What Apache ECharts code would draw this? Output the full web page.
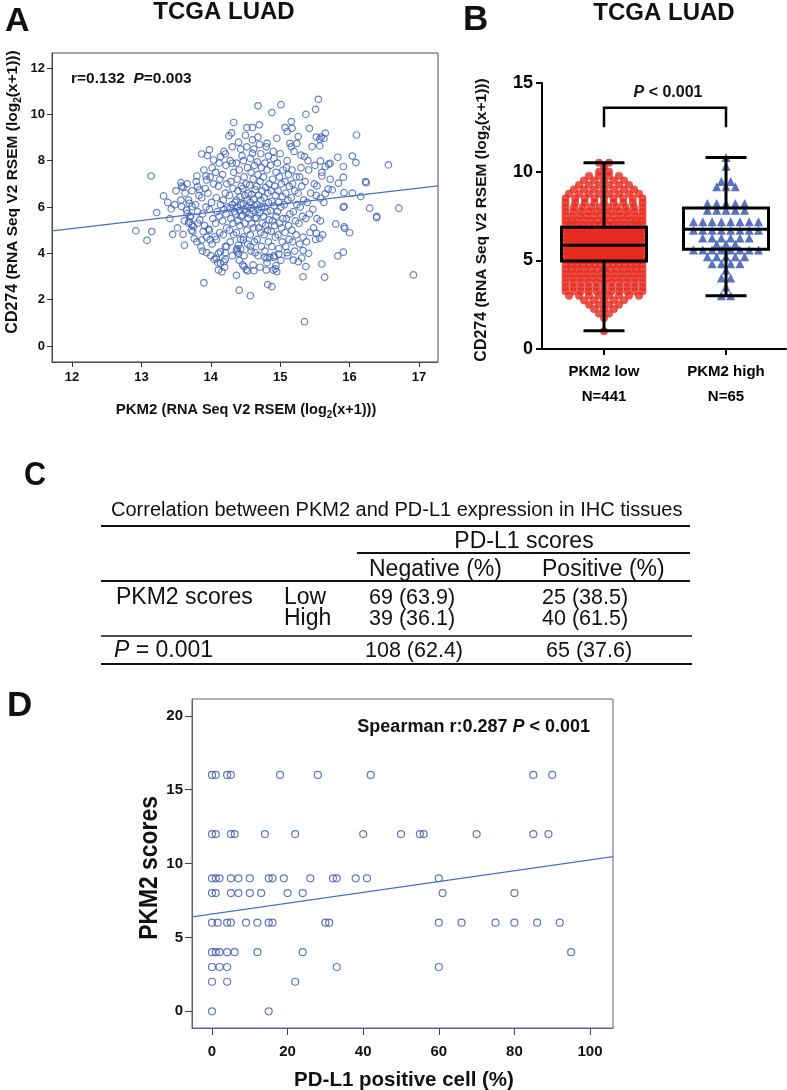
<!DOCTYPE html>
<html><head><meta charset="utf-8">
<script src="https://cdn.jsdelivr.net/npm/echarts@6/dist/echarts.min.js"></script>
<style>html,body{margin:0;padding:0;background:#fff}#c{width:787px;height:1090px}</style>
</head><body><div id="c"></div>
<script>
const FONT = '"Liberation Sans", Arial, Helvetica, sans-serif';

// ---------- Panel A : PKM2 vs CD274 scatter ----------
const aTicksX = [12, 13, 14, 15, 16, 17];
const aTicksY = [0, 2, 4, 6, 8, 10, 12];
const aFit = [0.883, 0.349]; // intercept, slope
const aOuter = [[12.92,4.97],[13.08,4.56],[13.15,4.94],[13.22,5.76],[13.32,6.48],[13.43,5.92],[13.45,4.82],[13.6,4.82],[13.62,4.35],[13.58,6.02],[13.58,6.9],[13.68,5.3],[13.76,4.64],[13.86,4.28],[13.9,2.73],[13.94,4.03],[13.89,4.94],[13.98,5.0],[14.05,3.74],[14.11,3.28],[14.16,3.21],[14.14,4.07],[14.19,3.64],[14.21,3.74],[14.37,3.05],[14.41,2.41],[14.38,4.07],[14.43,4.2],[14.48,3.43],[14.53,3.24],[14.57,2.17],[14.62,3.25],[14.78,3.83],[14.82,2.65],[14.88,2.56],[14.8,3.28],[14.93,3.33],[14.94,3.47],[14.85,3.83],[14.91,3.83],[14.98,3.97],[15.1,4.03],[15.33,2.99],[15.37,3.43],[15.35,1.05],[15.19,3.71],[15.26,3.64],[15.33,4.12],[15.6,3.54],[15.64,2.97],[15.57,4.65],[15.52,4.87],[15.8,5.27],[15.92,5.15],[16.0,4.89],[15.91,4.05],[15.83,3.89],[15.92,6.02],[16.04,6.6],[16.16,6.45],[16.24,7.05],[16.29,5.95],[16.39,5.54],[16.39,5.6],[16.71,5.95],[16.92,3.07],
[13.14,7.34],[13.57,7.05],[13.6,6.85],[13.8,7.34],[13.87,8.29],[13.95,8.22],[13.98,8.47],[14.04,8.03],[14.14,8.18],[14.21,8.29],[14.26,9.07],[14.33,9.65],[14.31,7.89],[14.45,8.21],[14.52,9.43],[14.6,9.43],[14.6,8.32],[14.68,10.37],[14.7,9.55],[14.68,9.02],[14.81,8.75],[14.88,10.08],[15.01,10.42],[14.95,8.97],[15.07,9.43],[15.1,9.26],[15.16,9.69],[15.17,9.4],[15.14,8.75],[15.16,8.6],[15.24,8.75],[15.26,9.04],[15.3,8.24],[15.35,8.18],[15.37,10.0],[15.42,9.4],[15.46,8.61],[15.51,10.22],[15.55,10.65],[15.52,9.02],[15.59,9.02],[15.65,9.19],[15.58,7.99],[15.7,7.85],[15.65,7.75],[15.83,8.15],[15.91,7.75],[16.04,8.2],[16.09,7.92],[16.1,9.11],[16.23,7.1],[16.56,7.82],
[15.92,6.62],[15.84,7.03],[15.75,6.74],[15.91,5.99],[15.93,5.08],[15.58,6.38],[15.65,6.57],[15.72,7.89],[15.72,7.2],[15.69,6.77],[15.63,8.97],[15.57,8.93],[15.57,8.64],[15.6,7.34],[15.53,6.91],[15.91,7.29],
[13.87,4.58],[13.93,7.34],[13.94,7.17],[13.81,6.88],[13.84,6.74],[13.69,6.16],[13.73,6.02],[13.65,5.87],[13.7,5.59],[13.69,5.37],[13.73,5.23],[13.66,5.73],[13.75,5.15],[13.81,5.3],[13.99,4.58],[14.06,4.72],[14.08,3.79],[14.14,3.57],[14.21,4.03],[14.23,4.29],[14.46,3.5],[14.4,4.36],[14.4,4.0],[14.37,4.15],[14.47,4.58],[14.57,4.29],[14.64,4.03],[14.81,3.79],[14.9,3.28],[14.95,3.21]];
const aCore = [[13.41,5.5],[13.38,6.2],[13.52,5.1],[13.48,6.1],[13.5,6.7],[13.62,5.4],[13.57,6.3],[13.63,6.6],
[13.71,5.6],[13.68,6.3],[13.73,6.7],[13.66,7.0],[13.72,5.0],[13.74,4.95],
[13.81,5.8],[13.78,6.1],[13.83,6.5],[13.79,7.1],[13.84,5.45],[13.8,4.5],
[13.91,5.2],[13.88,5.7],[13.93,6.0],[13.87,6.4],[13.92,6.8],[13.9,7.6],[13.94,4.7],[13.88,4.1],
[14.02,4.4],[13.97,5.05],[14.03,5.5],[13.98,5.9],[14.01,6.2],[13.96,6.6],[14.04,7.0],[13.99,7.3],[14.02,7.7],[14.0,3.9],
[14.11,4.0],[14.08,4.6],[14.13,4.9],[14.07,5.3],[14.12,5.6],[14.09,5.8],[14.14,6.1],[14.08,6.4],[14.11,6.9],[14.13,7.2],[14.07,7.5],[14.12,7.9],[14.1,3.6],
[14.21,4.3],[14.18,4.8],[14.23,5.1],[14.17,5.4],[14.22,5.7],[14.19,5.9],[14.24,6.0],[14.18,6.3],[14.21,6.6],[14.23,7.0],[14.17,7.4],[14.22,7.8],[14.19,8.4],[14.2,3.4],
[14.31,3.9],[14.28,4.5],[14.33,4.8],[14.27,5.0],[14.32,5.3],[14.29,5.5],[14.34,5.8],[14.28,5.95],[14.31,6.1],[14.35,6.2],[14.27,6.5],[14.32,6.8],[14.29,7.1],[14.33,7.5],[14.28,8.0],[14.31,8.6],[14.3,9.2],
[14.41,3.7],[14.38,4.2],[14.43,4.6],[14.37,4.9],[14.42,5.2],[14.39,5.4],[14.44,5.6],[14.36,5.7],[14.41,5.85],[14.38,6.0],[14.43,6.1],[14.37,6.3],[14.42,6.45],[14.39,6.7],[14.44,6.9],[14.38,7.2],[14.41,7.6],[14.37,7.9],[14.43,8.5],[14.4,8.8],
[14.51,3.3],[14.48,3.9],[14.53,4.4],[14.47,4.7],[14.52,5.0],[14.49,5.3],[14.54,5.5],[14.46,5.65],[14.51,5.8],[14.48,5.9],[14.53,6.0],[14.47,6.15],[14.52,6.3],[14.49,6.5],[14.54,6.6],[14.46,6.8],[14.51,7.0],[14.48,7.3],[14.53,7.7],[14.47,8.0],[14.52,8.6],[14.5,9.1],
[14.61,3.5],[14.58,4.1],[14.63,4.5],[14.57,4.8],[14.62,5.1],[14.59,5.3],[14.64,5.5],[14.56,5.7],[14.61,5.85],[14.58,5.95],[14.63,6.05],[14.57,6.2],[14.62,6.35],[14.59,6.55],[14.64,6.75],[14.56,6.95],[14.61,7.2],[14.58,7.5],[14.63,7.8],[14.57,8.1],[14.62,8.5],[14.6,8.9],
[14.71,3.4],[14.68,3.9],[14.73,4.3],[14.67,4.6],[14.72,4.9],[14.69,5.1],[14.74,5.3],[14.66,5.55],[14.71,5.75],[14.68,5.9],[14.73,6.0],[14.67,6.1],[14.72,6.3],[14.69,6.5],[14.74,6.7],[14.66,6.9],[14.71,7.1],[14.68,7.4],[14.73,7.7],[14.67,7.95],[14.72,8.3],[14.7,8.7],
[14.81,3.6],[14.78,4.1],[14.83,4.5],[14.77,4.8],[14.82,5.0],[14.79,5.2],[14.84,5.45],[14.76,5.6],[14.81,5.8],[14.78,6.0],[14.83,6.2],[14.77,6.4],[14.82,6.6],[14.79,6.85],[14.84,7.0],[14.76,7.3],[14.81,7.6],[14.78,7.9],[14.83,8.2],[14.8,8.6],
[14.91,3.9],[14.88,4.3],[14.93,4.7],[14.87,4.95],[14.92,5.2],[14.89,5.4],[14.94,5.6],[14.86,5.85],[14.91,6.05],[14.88,6.25],[14.93,6.5],[14.87,6.7],[14.92,6.9],[14.89,7.2],[14.94,7.5],[14.86,7.8],[14.91,8.1],[14.9,8.4],
[15.01,3.7],[14.98,4.2],[15.03,4.5],[14.97,4.8],[15.02,5.1],[14.99,5.3],[15.04,5.5],[14.96,5.8],[15.01,6.0],[14.98,6.2],[15.03,6.45],[14.97,6.7],[15.02,7.0],[14.99,7.3],[15.04,7.6],[14.96,7.9],[15.0,8.3],
[15.11,3.9],[15.08,4.3],[15.13,4.6],[15.07,4.9],[15.12,5.2],[15.09,5.5],[15.14,5.7],[15.06,6.1],[15.11,6.3],[15.08,6.6],[15.13,6.9],[15.07,7.1],[15.12,7.4],[15.09,7.7],[15.1,8.0],
[15.21,4.1],[15.18,4.5],[15.23,4.8],[15.17,5.0],[15.22,5.4],[15.19,5.8],[15.24,6.1],[15.16,6.4],[15.21,6.7],[15.18,7.0],[15.23,7.3],[15.17,7.6],[15.2,8.4],
[15.31,3.8],[15.28,4.4],[15.33,4.7],[15.27,5.3],[15.32,5.6],[15.29,6.0],[15.34,6.3],[15.26,6.6],[15.31,6.9],[15.28,7.3],[15.3,7.7],
[15.41,4.0],[15.38,4.5],[15.43,4.9],[15.37,5.5],[15.42,5.7],[15.39,6.2],[15.44,6.6],[15.36,7.1],[15.41,7.6],[15.4,8.0],
[15.51,4.6],[15.48,5.1],[15.53,5.5],[15.47,5.9],[15.52,6.5],[15.49,7.0],[15.5,7.8],
[15.61,4.8],[15.58,5.4],[15.63,6.2],[15.6,7.5]];

// ---------- Panel B : box + dot plot ----------
const bCategories = ['PKM2 low', 'PKM2 high'];
const bN = ['N=441', 'N=65'];
const bTicksY = [0, 5, 10, 15];
// [value, number of points at that level]
const bLowRows = [[10.5,2],[10.25,1],[10.0,2],[9.75,4],[9.5,5],[9.25,6],[9.0,7],[8.75,8],[8.5,9],[8.25,9],[8.0,10],[7.75,11],[7.5,12],[7.25,13],[7.0,14],[6.75,28],[6.5,28],[6.25,28],[6.0,28],[5.75,27],[5.5,27],[5.25,27],[5.0,27],[4.75,14],[4.5,13],[4.25,12],[4.0,12],[3.75,11],[3.5,11],[3.25,11],[3.0,8],[2.75,5],[2.5,4],[2.25,3],[2.0,2],[1.75,1],[1.0,1]];
const bHighRows = [[10.8,1],[10.3,1],[9.45,2],[9.15,3],[8.2,5],[7.83,5],[7.17,8],[6.7,8],[6.26,6],[5.9,3],[5.58,8],[5.2,5],[4.81,4],[4.45,1],[4.0,2],[3.5,1],[3.0,2]];
const bLowBox = [1.03, 4.96, 5.85, 6.86, 10.5];   // min, Q1, median, Q3, max
const bHighBox = [3.0, 5.62, 6.75, 7.95, 10.8];
const bBracket = [12.5, 13.6];

// ---------- Panel C : table ----------
const cTitle = 'Correlation between PKM2 and PD-L1 expression in IHC tissues';
const cHeader = ['PD-L1 scores', 'Negative (%)', 'Positive (%)'];
const cRowLabel = 'PKM2 scores';
const cGroups = ['Low', 'High'];
const cNegative = ['69 (63.9)', '39 (36.1)', '108 (62.4)'];
const cPositive = ['25 (38.5)', '40 (61.5)', '65 (37.6)'];
const cP = '0.001';

// ---------- Panel D : PD-L1 % vs PKM2 score ----------
const dTicksX = [0, 20, 40, 60, 80, 100];
const dTicksY = [0, 5, 10, 15, 20];
const dScores = [16, 12, 9, 8, 6, 4, 3, 2, 0];
const dPct = [
  [0,1,4,5,18,28,42,85,90],
  [0,1,5,6,14,22,40,50,55,56,70,85,89],
  [0,1,2,5,7,10,15,16,19,26,32,33,38,41,60],
  [0,1,5,7,10,13,20,24,61,80],
  [0,1.5,4,5,9,12,15,16,30,31,60,66,75,80,86,92],
  [0,1,2,4,6,12,24,95],
  [0,2,4,33,60],
  [0,4,22],
  [0,15]
];
const dFit = [6.58, 0.0367];

// ---------- build ----------
const aPoints = aOuter.concat(aCore);
const dPoints = [];
dScores.forEach((s, i) => dPct[i].forEach(p => dPoints.push([p, s])));

const AX = {min: 11.712, max: 17.274}, AY = {min: -0.69, max: 12.65};
const BX = {min: 0.4918, max: 2.4918};
const DX = {min: -5.29, max: 106.08}, DY = {min: -1.13, max: 21.14};
const B_PX_PER_UNIT = 244 / (BX.max - BX.min);

function swarm(rows, center, maxGap, maxWidth) {
  const pts = [];
  rows.forEach(([v, n]) => {
    const gap = n > 1 ? Math.min(maxGap, maxWidth / (n - 1)) : 0;
    for (let i = 0; i < n; i++) {
      const off = (i - (n - 1) / 2) * gap;
      pts.push([center + off / B_PX_PER_UNIT, v]);
    }
  });
  return pts;
}
const fitLine = (f, r) => [[r.min, f[0] + f[1] * r.min], [r.max, f[0] + f[1] * r.max]];

function T(x, y, text, size, o) {
  o = o || {};
  return {
    type: 'text', x: x, y: y, rotation: o.rot || 0, scaleX: o.sx || 1, z: 100,
    style: {
      text: text, fontSize: size, fontWeight: o.w || 'normal', fontStyle: o.it ? 'italic' : 'normal',
      fontFamily: FONT, fill: o.c || '#111', align: o.a || 'left', verticalAlign: 'middle',
      textAlign: o.a || 'left', textVerticalAlign: 'middle', rich: o.rich
    }
  };
}
function L(x1, y1, x2, y2, w) {
  return {type: 'line', z: 100, shape: {x1: x1, y1: y1, x2: x2, y2: y2}, style: {stroke: '#111', lineWidth: w}};
}
function rs(size, extra) {
  return Object.assign({fontSize: size, fontWeight: 'bold', fontFamily: FONT, fill: '#111', color: '#111'}, extra || {});
}
const axisRich = (bs, ns) => ({
  b: rs(bs, {lineHeight: 20}),
  n: rs(ns, {lineHeight: 20}),
  s: rs(10, {lineHeight: 10, verticalAlign: 'bottom'})
});
const axisText = (lead) => '{b|' + lead + ' }{n|(RNA Seq V2 RSEM (log}{s|2}{n|(x+1)))}';

const graphics = [
  T(5, 22, 'A', 34, {w: 'bold'}),
  T(224, 12, 'TCGA LUAD', 24, {w: 'bold', a: 'center'}),
  T(463, 20, 'B', 35, {w: 'bold'}),
  T(664, 13, 'TCGA LUAD', 24, {w: 'bold', a: 'center'}),
  T(24, 476, 'C', 34, {w: 'bold', sx: 0.9}),
  T(7, 706, 'D', 35, {w: 'bold'}),
  // panel A annotations
  T(71, 79, '{b|r=0.132  }{i|P}{b|=0.003}', 15.5, {w: 'bold', rich: {b: rs(15.5), i: rs(15.5, {fontStyle: 'italic'})}}),
  T(13, 192, axisText('CD274'), 15.5, {w: 'bold', rot: Math.PI / 2, a: 'center', rich: axisRich(16, 15.5)}),
  T(246, 410, axisText('PKM2'), 14.5, {w: 'bold', a: 'center', rich: axisRich(15, 14.5)}),
  // panel B annotations
  T(482, 220, axisText('CD274'), 15.5, {w: 'bold', rot: Math.PI / 2, a: 'center', rich: axisRich(16, 15.5)}),
  T(668, 93, '{i|P}{b| < 0.001}', 16, {w: 'bold', a: 'center', rich: {b: rs(16), i: rs(16, {fontStyle: 'italic'})}}),
  // panel C table
  T(111, 510, cTitle, 20),
  L(101, 526, 690, 526, 2),
  T(524, 542, cHeader[0], 23, {a: 'center'}),
  L(357, 553, 690, 553, 2),
  T(369, 570, cHeader[1], 23),
  T(542, 570, cHeader[2], 23),
  L(101, 581, 690, 581, 2),
  T(116, 598, cRowLabel, 23),
  T(284, 598, cGroups[0], 23),
  T(369, 598, cNegative[0], 21.5),
  T(542, 598, cPositive[0], 21.5),
  T(284, 619, cGroups[1], 23),
  T(369, 619, cNegative[1], 21.5),
  T(542, 619, cPositive[1], 21.5),
  L(101, 636, 692, 636, 1.5),
  T(114, 651, '{i|P}{n| = ' + cP + '}', 23, {rich: {i: rs(23, {fontWeight: 'normal', fontStyle: 'italic'}), n: rs(23, {fontWeight: 'normal'})}}),
  T(365, 651, cNegative[2], 21.5),
  T(546, 651, cPositive[2], 21.5),
  L(101, 664, 692, 664, 2),
  // panel D annotations
  T(590, 727, '{b|Spearman r:0.287 }{i|P}{b| < 0.001}', 18, {w: 'bold', a: 'right', rich: {b: rs(18), i: rs(18, {fontStyle: 'italic'})}}),
  T(404, 1080, 'PD-L1 positive cell (%)', 20.5, {w: 'bold', a: 'center'}),
  T(150, 868, 'PKM2 scores', 26, {w: 'bold', a: 'center', rot: Math.PI / 2, sx: 0.88})
];

const lbl = (vals, size, margin, extra) => Object.assign({
  customValues: vals, fontSize: size, fontWeight: 'bold', color: '#111', fontFamily: FONT, margin: margin
}, extra || {});
const tick = (vals, len, color, w) => ({show: true, customValues: vals, length: len, lineStyle: {color: color, width: w}});
const aline = (color, w) => ({show: true, onZero: false, lineStyle: {color: color, width: w}});

const option = {
  animation: false,
  backgroundColor: '#ffffff',
  grid: [
    {left: 52, top: 53, width: 386, height: 309, show: true, borderColor: '#4a4a4a', borderWidth: 1, backgroundColor: 'transparent'},
    {left: 542, top: 83, width: 244, height: 266},
    {left: 192, top: 699, width: 421, height: 329, show: true, borderColor: '#5a6096', borderWidth: 1, backgroundColor: 'transparent'}
  ],
  xAxis: [
    {gridIndex: 0, type: 'value', min: AX.min, max: AX.max, axisLine: aline('#4a4a4a', 1), axisTick: tick(aTicksX, 5, '#333', 1), axisLabel: lbl(aTicksX, 13, 9), splitLine: {show: false}},
    {gridIndex: 1, type: 'value', min: BX.min, max: BX.max, axisLine: aline('#000', 2), axisTick: tick([1, 2], 6, '#000', 2),
      axisLabel: lbl([1, 2], 15, 10, {color: '#000', lineHeight: 25, formatter: v => bCategories[Math.round(v) - 1] + '\n' + bN[Math.round(v) - 1]}), splitLine: {show: false}},
    {gridIndex: 2, type: 'value', min: DX.min, max: DX.max, axisLine: aline('#5a6096', 1), axisTick: tick(dTicksX, 7, '#444', 1), axisLabel: lbl(dTicksX, 15, 16), splitLine: {show: false}}
  ],
  yAxis: [
    {gridIndex: 0, type: 'value', min: AY.min, max: AY.max, axisLine: aline('#4a4a4a', 1), axisTick: tick(aTicksY, 5, '#333', 1), axisLabel: lbl(aTicksY, 13, 7), splitLine: {show: false}},
    {gridIndex: 1, type: 'value', min: 0, max: 15, axisLine: aline('#000', 2), axisTick: tick(bTicksY, 6, '#000', 2), axisLabel: lbl(bTicksY, 18, 9, {color: '#000'}), splitLine: {show: false}},
    {gridIndex: 2, type: 'value', min: DY.min, max: DY.max, axisLine: aline('#5a6096', 1), axisTick: tick(dTicksY, 7, '#444', 1), axisLabel: lbl(dTicksY, 15, 9), splitLine: {show: false}}
  ],
  series: [
    {type: 'scatter', xAxisIndex: 0, yAxisIndex: 0, data: aPoints, symbol: 'circle', symbolSize: 6.5, silent: true,
      itemStyle: {color: 'rgba(255,255,255,0)', borderColor: '#3d62b5', borderWidth: 1.2}},
    {type: 'line', xAxisIndex: 0, yAxisIndex: 0, data: fitLine(aFit, AX), symbol: 'none', silent: true, lineStyle: {color: '#4a70c0', width: 1.2}},
    {type: 'scatter', xAxisIndex: 1, yAxisIndex: 1, data: swarm(bLowRows, 1, 10, 77), symbol: 'circle', symbolSize: 8, silent: true, itemStyle: {color: '#e62a1f'}},
    {type: 'scatter', xAxisIndex: 1, yAxisIndex: 1, data: swarm(bHighRows, 2, 9.3, 65), symbol: 'triangle', symbolSize: 9, silent: true, itemStyle: {color: '#2f4fae'}},
    {type: 'custom', xAxisIndex: 1, yAxisIndex: 1, z: 5, silent: true,
      data: [[1].concat(bLowBox), [2].concat(bHighBox)],
      encode: {x: 0, y: [1, 2, 3, 4, 5]},
      renderItem: function (params, api) {
        const x = api.value(0);
        const c = v => api.coord([x, v]);
        const pMin = c(api.value(1)), pQ1 = c(api.value(2)), pMed = c(api.value(3)), pQ3 = c(api.value(4)), pMax = c(api.value(5));
        const cx = pMed[0], hw = 42.5, cw = 20.5;
        const st = {stroke: '#000', lineWidth: 3, fill: 'none'};
        return {type: 'group', children: [
          {type: 'rect', shape: {x: cx - hw, y: pQ3[1], width: 2 * hw, height: pQ1[1] - pQ3[1]}, style: st},
          {type: 'line', shape: {x1: cx - hw, y1: pMed[1], x2: cx + hw, y2: pMed[1]}, style: st},
          {type: 'line', shape: {x1: cx, y1: pQ3[1], x2: cx, y2: pMax[1]}, style: st},
          {type: 'line', shape: {x1: cx, y1: pQ1[1], x2: cx, y2: pMin[1]}, style: st},
          {type: 'line', shape: {x1: cx - cw, y1: pMax[1], x2: cx + cw, y2: pMax[1]}, style: st},
          {type: 'line', shape: {x1: cx - cw, y1: pMin[1], x2: cx + cw, y2: pMin[1]}, style: st}
        ]};
      }},
    {type: 'custom', xAxisIndex: 1, yAxisIndex: 1, z: 5, silent: true,
      data: [[1, 2].concat(bBracket)],
      encode: {x: [0, 1], y: [2, 3]},
      renderItem: function (params, api) {
        const a = api.coord([api.value(0), api.value(2)]), b = api.coord([api.value(0), api.value(3)]);
        const c = api.coord([api.value(1), api.value(3)]), d = api.coord([api.value(1), api.value(2)]);
        return {type: 'polyline', shape: {points: [a, b, c, d]}, style: {stroke: '#000', lineWidth: 2.5, fill: 'none'}};
      }},
    {type: 'scatter', xAxisIndex: 2, yAxisIndex: 2, data: dPoints, symbol: 'circle', symbolSize: 7, silent: true,
      itemStyle: {color: 'rgba(255,255,255,0)', borderColor: '#3a55b0', borderWidth: 1.2}},
    {type: 'line', xAxisIndex: 2, yAxisIndex: 2, data: fitLine(dFit, DX), symbol: 'none', silent: true, lineStyle: {color: '#4a70c0', width: 1.2}}
  ],
  graphic: graphics
};

const chart = echarts.init(document.getElementById('c'), null, {renderer: 'canvas'});
chart.setOption(option);
</script></body></html>
